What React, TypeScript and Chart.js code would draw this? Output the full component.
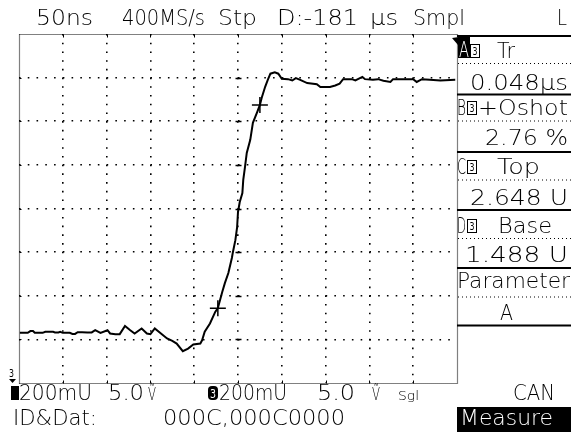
import React, { useEffect, useRef } from "react";
import { Chart, registerables } from "chart.js";

Chart.register(...registerables);

// ---- data read from the screen ----
// time (ns), 50 ns/div, 10 divisions
const TIME_NS = [1, 10, 13, 16, 18, 21, 27, 30, 39, 41, 45, 47, 50, 58, 61, 64, 67, 72, 78, 83, 87, 93, 101, 104, 110, 115, 121, 127, 132, 140, 146, 150, 155, 161, 169, 175, 180, 187, 193, 199, 207, 209, 212, 218, 224, 227, 232, 235, 239, 243, 244, 247, 249, 250, 252, 255, 256, 258, 260, 264, 267, 272, 275, 277, 281, 284, 287, 292, 296, 300, 307, 312, 316, 321, 329, 340, 344, 355, 361, 366, 370, 380, 384, 392, 395, 404, 410, 416, 424, 427, 450, 454, 460, 469, 481, 498];
// channel 3 voltage (V), 200 mV/div
const VOLTS = [1.485, 1.485, 1.493, 1.493, 1.485, 1.485, 1.485, 1.49, 1.49, 1.487, 1.487, 1.49, 1.485, 1.485, 1.48, 1.48, 1.488, 1.488, 1.487, 1.487, 1.497, 1.485, 1.497, 1.482, 1.479, 1.479, 1.516, 1.497, 1.482, 1.505, 1.482, 1.479, 1.505, 1.485, 1.459, 1.448, 1.436, 1.401, 1.413, 1.432, 1.436, 1.451, 1.49, 1.528, 1.581, 1.598, 1.672, 1.713, 1.759, 1.828, 1.851, 1.91, 1.97, 2.039, 2.085, 2.126, 2.186, 2.246, 2.31, 2.37, 2.448, 2.498, 2.53, 2.562, 2.613, 2.645, 2.673, 2.679, 2.673, 2.65, 2.648, 2.642, 2.653, 2.645, 2.63, 2.625, 2.612, 2.612, 2.619, 2.627, 2.648, 2.648, 2.642, 2.658, 2.648, 2.645, 2.648, 2.641, 2.635, 2.648, 2.648, 2.635, 2.648, 2.645, 2.642, 2.645];
// rise-time measurement cursors (10% / 90%)
const CURSOR_T = [227, 275];
const CURSOR_V = [1.598, 2.53];

const T_DIV = 50;
const T_DIVS = 10;
const V_CENTER = 2.055;
const V_DIV = 0.2;
const V_DIVS = 8;
const X_TICKS = Array.from({ length: T_DIVS + 1 }, (_, i) => i * T_DIV);
const Y_TICKS = Array.from({ length: V_DIVS + 1 }, (_, i) => V_CENTER + (i - V_DIVS / 2) * V_DIV);

// ---- texts ----
const HEADER = ["50ns", "400MS/s", "Stp", "D:-181", "μs", "Smpl", "L"];
const PANEL_CH = ["A", "B", "C", "D"];
const PANEL_NAMES = ["Tr", "+Oshot", "Top", "Base"];
const PANEL_VALUES = ["0.048μs", "2.76 %", "2.648 U", "1.488 U"];
const PANEL_PARAM = ["Parameter", "A"];
const FOOT1 = ["200mU", "5.0", "Ṽ", "3", "200mU", "5.0", "Ṽ", "Sgl", "CAN"];
const FOOT2 = ["ID&Dat:", "000C,000C0000", "Measure"];

const FONT = '"DejaVu Sans", sans-serif';

function txt(ctx: CanvasRenderingContext2D, s: string, x: number, y: number, w: number, size = 20, color = "#000", weight = "200") {
  ctx.save();
  ctx.font = `${weight} ${size}px ${FONT}`;
  ctx.fillStyle = color;
  ctx.textBaseline = "alphabetic";
  ctx.textAlign = "left";
  const m = ctx.measureText(s).width || 1;
  ctx.translate(x, y);
  if (w) ctx.scale(w / m, 1);
  ctx.fillText(s, 0, 0);
  ctx.restore();
}

function hline(ctx: CanvasRenderingContext2D, x1: number, x2: number, y: number, w: number, dash: number[] = []) {
  ctx.save();
  ctx.strokeStyle = "#000";
  ctx.lineWidth = w;
  ctx.setLineDash(dash);
  ctx.beginPath();
  ctx.moveTo(x1, y);
  ctx.lineTo(x2, y);
  ctx.stroke();
  ctx.restore();
}
function vline(ctx: CanvasRenderingContext2D, x: number, y1: number, y2: number, w: number, dash: number[] = []) {
  ctx.save();
  ctx.strokeStyle = "#000";
  ctx.lineWidth = w;
  ctx.setLineDash(dash);
  ctx.beginPath();
  ctx.moveTo(x, y1);
  ctx.lineTo(x, y2);
  ctx.stroke();
  ctx.restore();
}

const scopePlugin = {
  id: "scope",
  afterDraw(chart: any) {
    const ctx: CanvasRenderingContext2D = chart.ctx;
    const { left, right, top, bottom } = chart.chartArea;
    const xs = chart.scales.x;
    const ys = chart.scales.y;
    const L = Math.round(left) + 0.5;
    const R = Math.round(right) + 0.5;
    const T = Math.round(top) + 0.5;
    const B = Math.round(bottom) + 0.5;

    // frame (dense dots)
    hline(ctx, L, R, T, 1.2, [1, 1]);
    hline(ctx, L, R, B, 1.2, [1, 1]);
    vline(ctx, L, T, B, 1.2, [1, 1]);
    vline(ctx, R, T, B, 1.2, [1, 1]);

    // border ticks
    X_TICKS.slice(1, -1).forEach((t) => {
      const px = Math.round(xs.getPixelForValue(t)) + 0.5;
      vline(ctx, px, T, T + 3, 1);
      vline(ctx, px, B - 3, B, 1);
    });
    const cx = Math.round(xs.getPixelForValue(X_TICKS[T_DIVS / 2])) + 0.5;
    Y_TICKS.slice(1, -1).forEach((v) => {
      const py = Math.round(ys.getPixelForValue(v)) + 0.5;
      hline(ctx, L, L + 2, py, 1);
      hline(ctx, cx - 3, cx + 3, py, 1.5);
    });

    // ---- header ----
    const hb = 25;
    txt(ctx, HEADER[0], 36, hb, 57, 21);
    txt(ctx, HEADER[1], 122, hb, 83, 21);
    txt(ctx, HEADER[2], 218, hb, 39, 21);
    txt(ctx, HEADER[3], 277, hb, 81, 21);
    txt(ctx, HEADER[4], 370, hb, 28, 21);
    txt(ctx, HEADER[5], 413, hb, 52, 21);
    txt(ctx, HEADER[6], 557, hb, 10, 21);

    // ---- measurement panel ----
    const PX = 457;
    [36, 94.5, 152, 210, 268, 325.5].forEach((y) => hline(ctx, PX, 571, y, 2));
    [63.5, 121, 180, 238.5, 297].forEach((y) => hline(ctx, PX + 1, 571, y, 1.2, [1, 3]));
    // trigger marker
    ctx.save();
    ctx.fillStyle = "#000";
    ctx.beginPath();
    ctx.moveTo(452, 38);
    ctx.lineTo(459, 37);
    ctx.lineTo(458, 45);
    ctx.closePath();
    ctx.fill();
    ctx.restore();

    const rowBase = [58, 115, 174, 233];
    const valBase = [90, 145, 205, 262];
    const nameX = [497, 478, 497, 498];
    const nameW = [18, 90, 43, 54];
    const valX = [470, 485, 470, 465];
    const valW = [98, 83, 98, 103];
    rowBase.forEach((b, i) => {
      let bx: number;
      if (i === 0) {
        ctx.fillStyle = "#000";
        ctx.fillRect(458, 37, 12, 21);
        txt(ctx, PANEL_CH[i], 459, b - 1, 10, 21, "#fff");
        bx = 470;
      } else {
        txt(ctx, PANEL_CH[i], 457, b, 9, 21);
        bx = 467;
      }
      ctx.save();
      ctx.strokeStyle = "#000";
      ctx.lineWidth = 1;
      ctx.strokeRect(bx + 0.5, b - 13.5, 9, 13);
      ctx.restore();
      txt(ctx, "3", bx + 2.5, b - 3, 5, 10, "#000", "400");
      txt(ctx, PANEL_NAMES[i], nameX[i], b, nameW[i], 21);
      txt(ctx, PANEL_VALUES[i], valX[i], valBase[i], valW[i], 21);
    });
    txt(ctx, PANEL_PARAM[0], 457, 288, 113, 21);
    txt(ctx, PANEL_PARAM[1], 500, 320, 13, 21);

    // ---- ground marker ----
    txt(ctx, "3", 9, 377, 5, 10, "#000", "400");
    ctx.save();
    ctx.fillStyle = "#000";
    ctx.beginPath();
    ctx.moveTo(9, 379);
    ctx.lineTo(16, 379);
    ctx.lineTo(12.5, 383);
    ctx.closePath();
    ctx.fill();
    ctx.restore();

    // ---- footer ----
    const f1 = 400;
    ctx.fillStyle = "#000";
    ctx.fillRect(11, 386, 8, 14);
    txt(ctx, FOOT1[0], 19, f1, 73, 21);
    txt(ctx, FOOT1[1], 108, f1, 36, 21);
    txt(ctx, FOOT1[2], 148, f1, 8, 17);
    ctx.fillStyle = "#000";
    ctx.beginPath();
    ctx.roundRect(208, 386, 10, 14, 4);
    ctx.fill();
    txt(ctx, FOOT1[3], 210, f1 - 2, 6, 12, "#fff", "400");
    txt(ctx, FOOT1[4], 219, f1, 68, 21);
    txt(ctx, FOOT1[5], 317, f1, 38, 21);
    txt(ctx, FOOT1[6], 372, f1, 8, 17);
    txt(ctx, FOOT1[7], 398, f1, 21, 13);
    txt(ctx, FOOT1[8], 513, f1, 42, 21);

    const f2 = 425;
    txt(ctx, FOOT2[0], 13, f2, 84, 21);
    txt(ctx, FOOT2[1], 163, f2, 182, 21);
    ctx.fillStyle = "#000";
    ctx.fillRect(457, 407, 114, 25);
    txt(ctx, FOOT2[2], 460, f2, 93, 21, "#fff");
  },
};

export default function App() {
  const ref = useRef<HTMLCanvasElement | null>(null);
  useEffect(() => {
    const canvas = ref.current;
    if (!canvas) return;
    const lastX = X_TICKS.length - 1;
    const lastY = Y_TICKS.length - 1;
    const chart = new Chart(canvas, {
      type: "line",
      data: {
        datasets: [
          {
            label: "CH3",
            data: TIME_NS.map((t, i) => ({ x: t, y: VOLTS[i] })),
            borderColor: "#000",
            borderWidth: 2,
            pointRadius: 0,
            tension: 0,
            fill: false,
          },
          {
            label: "cursors",
            type: "scatter",
            data: CURSOR_T.map((t, i) => ({ x: t, y: CURSOR_V[i] })),
            pointStyle: "cross",
            pointRadius: 8,
            borderColor: "#000",
            borderWidth: 1.5,
            showLine: false,
          } as any,
        ],
      },
      options: {
        responsive: false,
        animation: false,
        devicePixelRatio: 1,
        layout: { padding: { left: 19, top: 34, right: 114, bottom: 49 } },
        plugins: { legend: { display: false }, tooltip: { enabled: false }, title: { display: false } },
        events: [],
        scales: {
          x: {
            type: "linear",
            min: X_TICKS[0],
            max: X_TICKS[lastX],
            afterBuildTicks: (axis: any) => {
              axis.ticks = X_TICKS.map((v) => ({ value: v }));
            },
            ticks: { display: false },
            grid: {
              drawTicks: false,
              lineWidth: 1.6,
              color: (c: any) => (c.index === 0 || c.index === lastX ? "rgba(0,0,0,0)" : "#000"),
            },
            border: { display: false, dash: [1.6, 7.11] },
          },
          y: {
            type: "linear",
            min: Y_TICKS[0],
            max: Y_TICKS[lastY],
            afterBuildTicks: (axis: any) => {
              axis.ticks = Y_TICKS.map((v) => ({ value: v }));
            },
            ticks: { display: false },
            grid: {
              drawTicks: false,
              lineWidth: 1.6,
              color: (c: any) => (c.index === 0 || c.index === lastY ? "rgba(0,0,0,0)" : "#000"),
            },
            border: { display: false, dash: [1.6, 7.16] },
          },
        },
      },
      plugins: [scopePlugin],
    });
    return () => chart.destroy();
  }, []);
  return (
    <div style={{ position: "absolute", left: 0, top: 0, width: 571, height: 432, background: "#fff" }}>
      <canvas ref={ref} width={571} height={432} style={{ display: "block", width: 571, height: 432 }} />
    </div>
  );
}
